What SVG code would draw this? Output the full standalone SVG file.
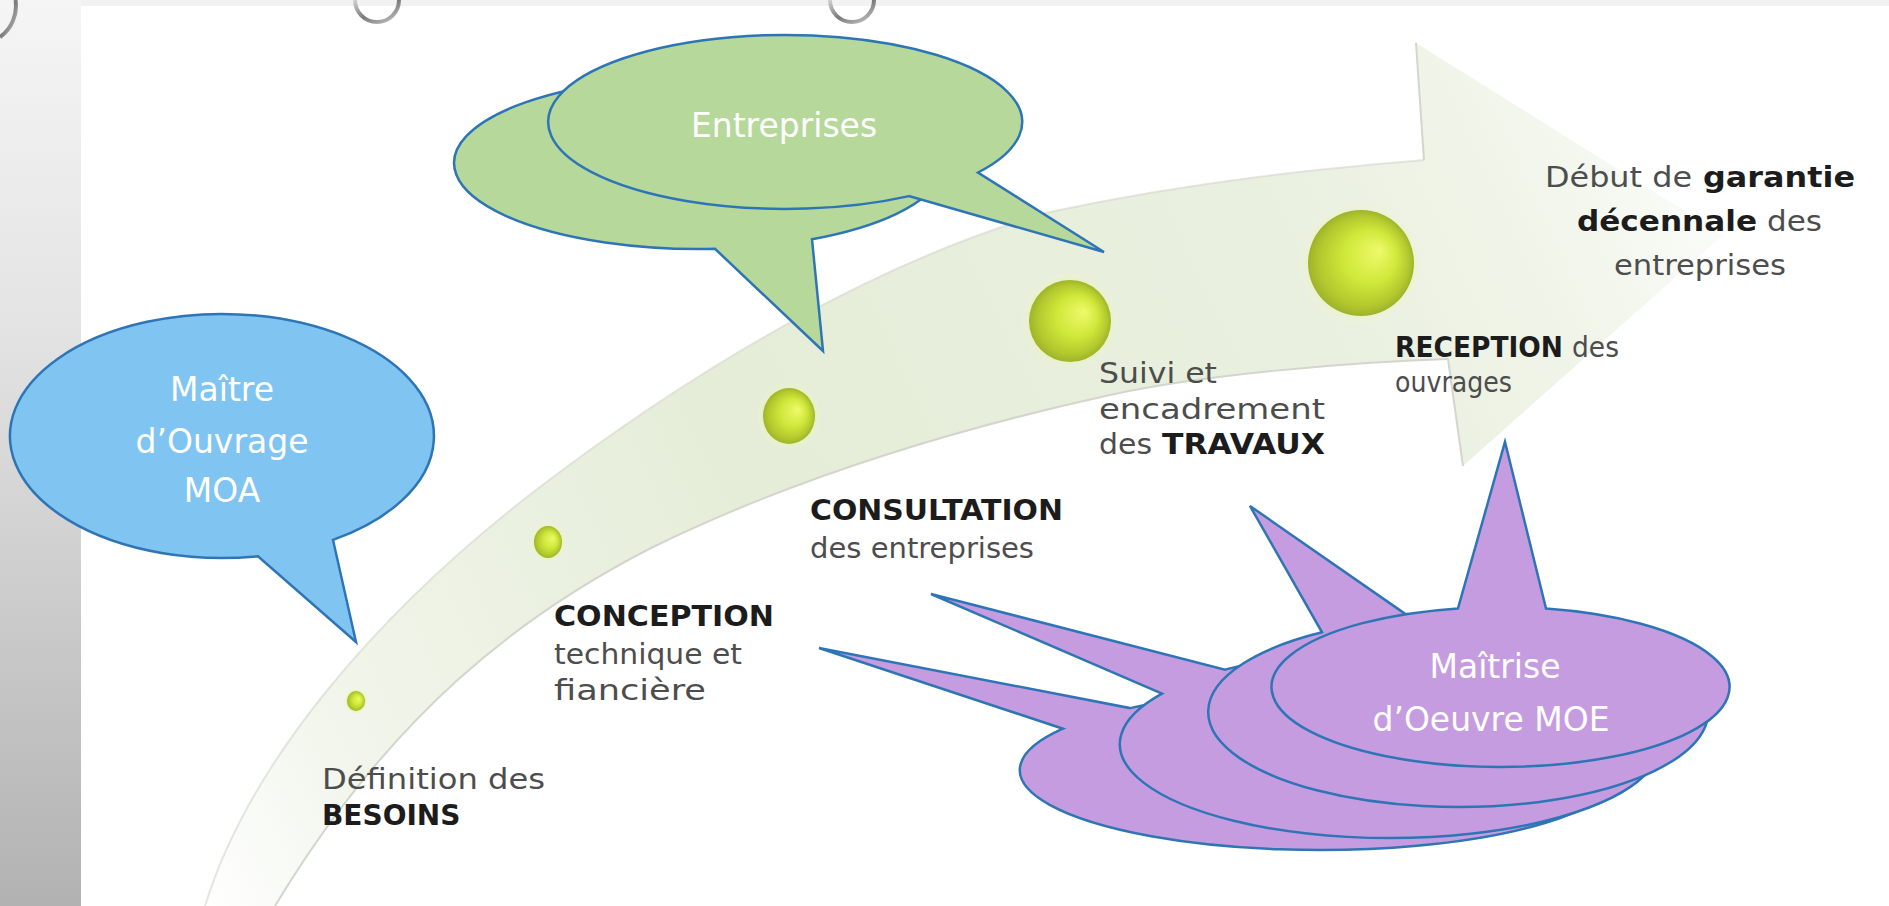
<svg xmlns="http://www.w3.org/2000/svg" width="1889" height="906" viewBox="0 0 1889 906">
<defs>
<linearGradient id="bar" x1="0" y1="0" x2="0" y2="1">
<stop offset="0" stop-color="#f5f5f5"/><stop offset="0.35" stop-color="#e4e4e4"/><stop offset="1" stop-color="#b2b2b2"/>
</linearGradient>
<linearGradient id="band" gradientUnits="userSpaceOnUse" x1="200" y1="906" x2="1720" y2="200">
<stop offset="0" stop-color="#ffffff"/><stop offset="0.12" stop-color="#f1f5eb"/><stop offset="0.4" stop-color="#e5edd8"/><stop offset="0.75" stop-color="#e9f0df"/><stop offset="0.9" stop-color="#f1f5ea"/><stop offset="1" stop-color="#fbfcf9"/>
</linearGradient>
<radialGradient id="dot" cx="0.5" cy="0.5" r="0.5" fx="0.68" fy="0.38">
<stop offset="0" stop-color="#eefa6c"/><stop offset="0.5" stop-color="#d0e83a"/><stop offset="0.85" stop-color="#b2c82e"/><stop offset="1" stop-color="#9fb32a"/>
</radialGradient>
<radialGradient id="halo" cx="0.5" cy="0.5" r="0.5">
<stop offset="0.7" stop-color="#e2f190" stop-opacity="0.9"/><stop offset="1" stop-color="#f2f8d6" stop-opacity="0"/>
</radialGradient>
<linearGradient id="ring" x1="0" y1="0" x2="1" y2="1">
<stop offset="0" stop-color="#d0d0d0"/><stop offset="0.5" stop-color="#7a7a7a"/><stop offset="1" stop-color="#c8c8c8"/>
</linearGradient>
<style>
.lbl{font-family:"DejaVu Sans","Liberation Sans",sans-serif;font-size:28px;fill:#4d4d4d}
.b{font-weight:bold;fill:#1c1c1c}
.wt{font-family:"DejaVu Sans","Liberation Sans",sans-serif;font-size:33px;fill:#ffffff;text-anchor:middle}
.ctr{text-anchor:middle}
.blue{fill:#80c4f1;stroke:#2e75b6;stroke-width:2.5}
.green{fill:#b6d99b;stroke:#2e75b6;stroke-width:2.5}
.purple{fill:#c69ce0;stroke:#2e75b6;stroke-width:2.5}
.edge{fill:none;stroke:#d2d6cc;stroke-width:2}
.ringc{fill:none;stroke:url(#ring);stroke-width:4}
</style>
</defs>

<g id="background">
<rect x="0" y="0" width="1889" height="906" fill="#f2f2f2"/>
<rect x="0" y="0" width="81" height="906" fill="url(#bar)"/>
<rect x="81" y="6" width="1808" height="900" fill="#ffffff"/>
<path d="M0,37 A38,38 0 0 0 15.5,0" class="ringc"/>
<path d="M355,0 A22,22 0 0 0 399,0" class="ringc"/>
<path d="M830,0 A22,22 0 0 0 874,0" class="ringc"/>
</g>

<g id="connectors">
<path id="arrow" d="M205,906 C250,760 380,610 536,490 C700,365 880,260 1050,212 C1200,180 1330,168 1424,160 L1416,43 L1723,235 L1463,466 L1448,359 C1350,362 1200,375 1110,395 C960,428 800,475 651,548 C520,615 390,715 275,906 Z" fill="url(#band)"/>
<path class="edge" d="M205,906 C250,760 380,610 536,490 C700,365 880,260 1050,212 C1200,180 1330,168 1424,160" stroke-opacity="0.6"/>
<path class="edge" d="M1448,359 C1350,362 1200,375 1110,395 C960,428 800,475 651,548 C520,615 390,715 275,906"/>
<path class="edge" d="M1416,43 L1424,160 M1448,359 L1463,466" stroke="#c6cac0"/>
</g>

<g id="step-besoins">
<ellipse cx="356" cy="701" rx="12" ry="13" fill="url(#halo)"/>
<ellipse cx="356" cy="701" rx="9" ry="10" fill="url(#dot)"/>
<text class="lbl" x="322" y="789" textLength="223" lengthAdjust="spacingAndGlyphs">Définition des</text>
<text class="lbl b" x="322" y="825">BESOINS</text>
</g>

<g id="step-conception">
<ellipse cx="548" cy="542" rx="18" ry="20" fill="url(#halo)"/>
<ellipse cx="548" cy="542" rx="14" ry="16" fill="url(#dot)"/>
<text class="lbl b" x="554" y="626" textLength="220" lengthAdjust="spacingAndGlyphs">CONCEPTION</text>
<text class="lbl" x="554" y="664" textLength="188" lengthAdjust="spacingAndGlyphs">technique et</text>
<text class="lbl" x="554" y="700" textLength="152" lengthAdjust="spacingAndGlyphs">fiancière</text>
</g>

<g id="step-consultation">
<ellipse cx="789" cy="416" rx="32" ry="34" fill="url(#halo)"/>
<ellipse cx="789" cy="416" rx="26" ry="28" fill="url(#dot)"/>
<text class="lbl b" x="810" y="520" textLength="253" lengthAdjust="spacingAndGlyphs">CONSULTATION</text>
<text class="lbl" x="810" y="558" textLength="224" lengthAdjust="spacingAndGlyphs">des entreprises</text>
</g>

<g id="step-travaux">
<circle cx="1070" cy="321" r="49" fill="url(#halo)"/>
<circle cx="1070" cy="321" r="41" fill="url(#dot)"/>
<text class="lbl" x="1099" y="383" textLength="118" lengthAdjust="spacingAndGlyphs">Suivi et</text>
<text class="lbl" x="1099" y="419" textLength="226" lengthAdjust="spacingAndGlyphs">encadrement</text>
<text class="lbl" y="454"><tspan x="1099" textLength="53" lengthAdjust="spacingAndGlyphs">des</tspan><tspan class="b" x="1162" textLength="163" lengthAdjust="spacingAndGlyphs">TRAVAUX</tspan></text>
</g>

<g id="step-reception">
<circle cx="1361" cy="263" r="62" fill="url(#halo)"/>
<circle cx="1361" cy="263" r="53" fill="url(#dot)"/>
<text class="lbl" y="357"><tspan class="b" x="1395" textLength="168" lengthAdjust="spacingAndGlyphs">RECEPTION</tspan><tspan x="1572" textLength="47" lengthAdjust="spacingAndGlyphs">des</tspan></text>
<text class="lbl" x="1395" y="392" textLength="117" lengthAdjust="spacingAndGlyphs">ouvrages</text>
</g>

<g id="step-garantie">
<text class="lbl" y="187"><tspan x="1545" textLength="147" lengthAdjust="spacingAndGlyphs">Début de</tspan><tspan class="b" x="1703" textLength="152" lengthAdjust="spacingAndGlyphs">garantie</tspan></text>
<text class="lbl" y="231"><tspan class="b" x="1577" textLength="180" lengthAdjust="spacingAndGlyphs">décennale</tspan><tspan x="1767" textLength="55" lengthAdjust="spacingAndGlyphs">des</tspan></text>
<text class="lbl ctr" x="1700" y="275" textLength="172" lengthAdjust="spacingAndGlyphs">entreprises</text>
</g>

<g id="balloon-entreprises">
<path class="green" d="M715,248.8 A245,86 0 1 1 812,239.3 L823,351 Z"/>
<path class="green" d="M909,196.1 A237,87 0 1 1 978,172.5 L1104,252 Z"/>
<text class="wt" x="784" y="137">Entreprises</text>
</g>

<g id="balloon-moa">
<path class="blue" d="M258,556.2 A212,122 0 1 1 333,539.9 L356,642 Z"/>
<text class="wt" x="222" y="401">Maître</text>
<text class="wt" x="222" y="453">d’Ouvrage</text>
<text class="wt" x="222" y="502">MOA</text>
</g>

<g id="balloon-moe">
<path class="purple" d="M1130,708.1 A300,80 0 1 1 1063,728.7 L819,648 Z"/>
<path class="purple" d="M1225,669.6 A270,94 0 1 1 1162,693.6 L931,594 Z"/>
<path class="purple" d="M1412,618.6 A250,95 0 1 1 1322,632.3 L1250,506 Z"/>
<path class="purple" d="M1546,608.6 A229,80 0 1 1 1458,608.4 L1505,442 Z"/>
<text class="wt" x="1495" y="678">Maîtrise</text>
<text class="wt" x="1491" y="731">d’Oeuvre MOE</text>
</g>
</svg>
